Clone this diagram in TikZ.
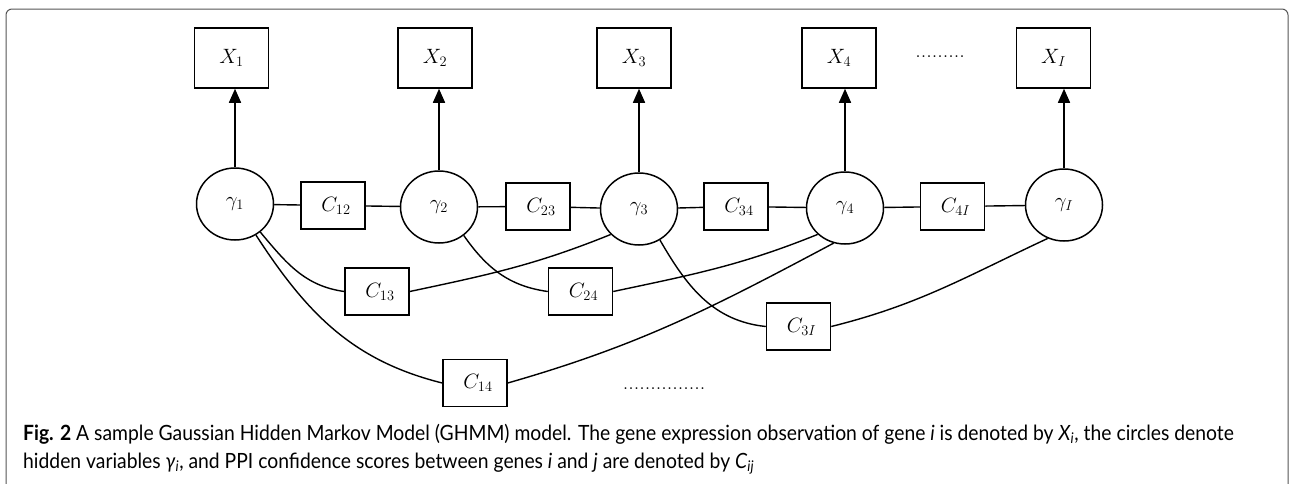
\documentclass[tikz,border=0pt]{standalone}
\usepackage{fontspec}
\setsansfont[FakeStretch=0.92]{Lato}
\usetikzlibrary{shapes.geometric,arrows.meta}
\definecolor{framegray}{HTML}{555555}
\begin{document}
\begin{tikzpicture}[x=1pt,y=-1pt,
  obs/.style={draw, line width=1.5pt, minimum width=74pt, minimum height=60pt,
    inner sep=0pt, font=\fontsize{21}{24}\selectfont},
  hid/.style={ellipse, draw, line width=1.5pt, minimum width=77pt, minimum height=72pt,
    inner sep=0pt, font=\fontsize{20}{22}\selectfont},
  pairbox/.style={draw, line width=1.5pt, minimum width=64pt, minimum height=47pt,
    inner sep=0pt, font=\fontsize{21}{24}\selectfont},
  link/.style={line width=1.4pt},
  emit/.style={line width=1.5pt, -{Triangle[width=12pt,length=14pt]}},
  dots/.style={font=\fontsize{22}{24}\selectfont, inner sep=0pt},
  capline/.style={anchor=base west, inner sep=0pt, font=\sffamily\fontsize{21}{28}\selectfont}]
\useasboundingbox (0,0) rectangle (1290,483);

% outer frame, open at the bottom
\draw[framegray, line width=1pt, rounded corners=6pt]
  (6,490) -- (6,9) -- (1288,9) -- (1288,490);

% observations
\node[obs] (x1) at (231.5,58) {$X_1$};
\node[obs] (x2) at (435,58)   {$X_2$};
\node[obs] (x3) at (634,58)   {$X_3$};
\node[obs] (x4) at (839,58)   {$X_4$};
\node[obs] (xI) at (1053.5,58){$X_I$};
\node[dots] (tdots) at (940,57) {.........};

% hidden states
\node[hid] (g1) at (235,204)  {$\gamma_1$};
\node[hid] (g2) at (439,207)  {$\gamma_2$};
\node[hid] (g3) at (639,209)  {$\gamma_3$};
\node[hid] (g4) at (845,208)  {$\gamma_4$};
\node[hid] (gI) at (1064,205) {$\gamma_I$};

% neighbour confidence scores
\node[pairbox] (c12) at (333,205.5) {\hspace{6pt}$C_{12}$};
\node[pairbox] (c23) at (538,206.5) {\hspace{6pt}$C_{23}$};
\node[pairbox] (c34) at (736,206.5) {\hspace{6pt}$C_{34}$};
\node[pairbox] (c4I) at (952.5,206.5) {\hspace{6pt}$C_{4I}$};

% longer-range confidence scores
\node[pairbox] (c13) at (377,291.5) {\hspace{6pt}$C_{13}$};
\node[pairbox] (c24) at (580.5,291.5) {\hspace{6pt}$C_{24}$};
\node[pairbox] (c14) at (475,383) {\hspace{6pt}$C_{14}$};
\node[pairbox] (c3I) at (798.5,326.5) {\hspace{6pt}$C_{3I}$};
\node[dots] (bdots) at (664,389) {...............};

% emissions
\foreach \g/\x in {g1/x1, g2/x2, g3/x3, g4/x4, gI/xI}
  \draw[emit] (\g.north) -- (\g.north |- \x.south);

% chain links
\draw[link] (g1) -- (c12) -- (g2) -- (c23) -- (g3) -- (c34) -- (g4) -- (c4I) -- (gI);

% skip links
\draw[link] (g1.-48) to[out=-50, in=172] (c13.west);
\draw[link] (g1.-56) to[out=-57, in=166] (c14.west);
\draw[link] (c13.east) to[out=12, in=202] (g3.-138);
\draw[link] (g2.-49) to[out=-55, in=172] (c24.west);
\draw[link] (c24.east) to[out=12, in=202] (g4.-136);
\draw[link] (g3.-56) to[out=-60, in=174] (c3I.west);
\draw[link] (c14.east) to[out=16, in=208] (g4.-108);
\draw[link] (c3I.east) to[out=14, in=205] (gI.-116);

% caption
\node[capline] (cap1) at (23,440)
  {\textbf{Fig. 2} A sample Gaussian Hidden Markov Model (GHMM) model. The gene expression observation of gene \textit{i} is denoted by \textit{X}\textsubscript{\textit{i}}, the circles denote};
\node[capline] (cap2) at (23,468)
  {hidden variables \textit{γ}\textsubscript{\textit{i}}, and PPI confidence scores between genes \textit{i} and \textit{j} are denoted by \textit{C}\textsubscript{\textit{ij}}};
\end{tikzpicture}
\end{document}
